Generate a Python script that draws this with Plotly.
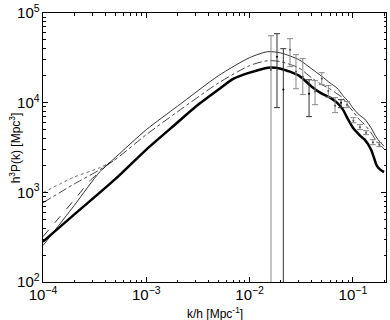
import plotly.graph_objects as go

# model curves: k [h/Mpc] and h^3 P(k) [Mpc^3]
k_main = [1e-4, 2e-4, 5e-4, 1e-3, 2e-3, 3e-3, 5e-3, 7e-3, 0.01, 0.015, 0.02, 0.03, 0.04, 0.05,
          0.06, 0.07, 0.08, 0.09, 0.1, 0.11, 0.12, 0.13, 0.15, 0.17, 0.185, 0.2]
p_thick = [282, 564, 1403, 3000, 6000, 9000, 14000, 18500, 21600, 24550, 23940, 20000, 15080, 12590,
           11370, 10000, 8360, 6460, 5260, 4630, 4180, 3870, 2990, 1990, 1780, 1680]

k_thin = [1e-4, 2e-4, 3.56e-4, 5e-4, 1e-3, 2e-3, 5e-3, 0.01, 0.015, 0.02, 0.03, 0.04, 0.05,
          0.06, 0.07, 0.08, 0.09, 0.1, 0.11, 0.12, 0.13, 0.15, 0.17, 0.2]
p_thin = [255, 711, 1702, 2437, 5000, 9120, 20000, 31800, 37050, 35850, 30150, 23760, 19640,
          16580, 14580, 11970, 10330, 8730, 7680, 7030, 6580, 5220, 4040, 3260]

k_dashdot = [1e-4, 2e-4, 3.56e-4, 5e-4, 1e-3, 2e-3, 5e-3, 0.01, 0.015, 0.02, 0.03, 0.04, 0.05,
             0.06, 0.07, 0.08, 0.09, 0.1, 0.11, 0.12, 0.13, 0.15, 0.17, 0.2]
p_dashdot = [767, 1237, 1791, 2316, 4400, 7900, 16580, 25900, 29400, 28650, 24370, 18850, 15870,
             14220, 12590, 11280, 9260, 8000, 6930, 6190, 5690, 4590, 3700, 3050]

k_dashed = [1e-4, 1.46e-4, 2.13e-4, 2.85e-4, 3.56e-4, 5e-4]
p_dashed = [321, 536, 895, 1349, 1702, 2437]

k_dotted = [1e-4, 2e-4, 3.56e-4, 5e-4]
p_dotted = [993, 1478, 1885, 2316]

# measurements (grey set and black set)
k_a = [0.0161, 0.0246, 0.0281, 0.0327, 0.0430, 0.0499, 0.0578, 0.0671, 0.0877,
       0.101, 0.117, 0.134, 0.156, 0.180]
p_a = [23300, 39000, 22200, 19500, 13300, 18500, 13500, 9260, 9500,
       6300, 5330, 4630, 3630, 3400]
p_a_hi = [55800, 51700, 34300, 31000, 17600, 21600, 15500, 11400, 10300,
          6800, 5690, 4870, 3870, 3580]
p_a_lo = [1, 25200, 14300, 12300, 9500, 15900, 11500, 7740, 8800,
          5980, 5000, 4400, 3400, 3230]

k_b = [0.0184, 0.0212, 0.0376, 0.0767]
p_b = [32600, 14000, 12600, 10000]
p_b_hi = [58800, 40000, 18000, 10800]
p_b_lo = [8800, 1, 6980, 8800]

FONT = "Liberation Sans, Arial, Helvetica"

fig = go.Figure()

def curve(x, y, color, width, dash="solid"):
    return go.Scatter(x=x, y=y, mode="lines",
                      line=dict(color=color, width=width, dash=dash,
                                shape="spline", smoothing=0.7))

fig.add_trace(curve(k_dotted, p_dotted, "#666666", 1, "dot"))
fig.add_trace(curve(k_dashed, p_dashed, "#333333", 1, "dash"))
fig.add_trace(curve(k_dashdot, p_dashdot, "#444444", 1, "dashdot"))
fig.add_trace(curve(k_thin, p_thin, "black", 0.8))
fig.add_trace(curve(k_main, p_thick, "black", 2.5))

fig.add_trace(go.Scatter(
    x=k_a, y=p_a, mode="markers",
    marker=dict(color="#555555", size=2),
    error_y=dict(type="data", symmetric=False,
                 array=[h - p for h, p in zip(p_a_hi, p_a)],
                 arrayminus=[p - l for p, l in zip(p_a, p_a_lo)],
                 color="#888888", thickness=1, width=3)))
fig.add_trace(go.Scatter(
    x=k_b, y=p_b, mode="markers",
    marker=dict(color="black", size=2),
    error_y=dict(type="data", symmetric=False,
                 array=[h - p for h, p in zip(p_b_hi, p_b)],
                 arrayminus=[p - l for p, l in zip(p_b, p_b_lo)],
                 color="#333333", thickness=1, width=3)))

axis_common = dict(type="log", showgrid=False, zeroline=False, mirror="ticks",
                   showline=True, linecolor="black", linewidth=1,
                   ticks="inside", ticklen=5, tickcolor="black",
                   exponentformat="power", automargin=False, ticklabeloverflow="allow",
                   minor=dict(ticks="inside", ticklen=2.5, tickcolor="black", showgrid=False),
                   tickfont=dict(family=FONT, size=12, color="black"))

fig.update_xaxes(range=[-4, -0.68], dtick=1, **axis_common)
fig.update_yaxes(range=[2, 5], dtick=1, **axis_common)

fig.add_annotation(text="k/h [Mpc<sup>-1</sup>]", xref="paper", yref="paper",
                   x=0.5, y=-0.115, yanchor="middle", showarrow=False,
                   font=dict(family=FONT, size=12, color="black"))
fig.add_annotation(text="h<sup>3</sup>P(k) [Mpc<sup>3</sup>]", xref="paper", yref="paper",
                   x=-0.082, y=0.5, xanchor="center", yanchor="middle", textangle=-90,
                   showarrow=False, font=dict(family=FONT, size=12, color="black"))

fig.update_layout(width=390, height=320, showlegend=False,
                  margin=dict(l=43, r=4, t=13, b=38),
                  plot_bgcolor="white", paper_bgcolor="white")

# drop the default 8px page margin so the figure fills the window
fig.write_html("out.html", config={"displayModeBar": False},
               post_script="document.body.style.margin='0px';")
